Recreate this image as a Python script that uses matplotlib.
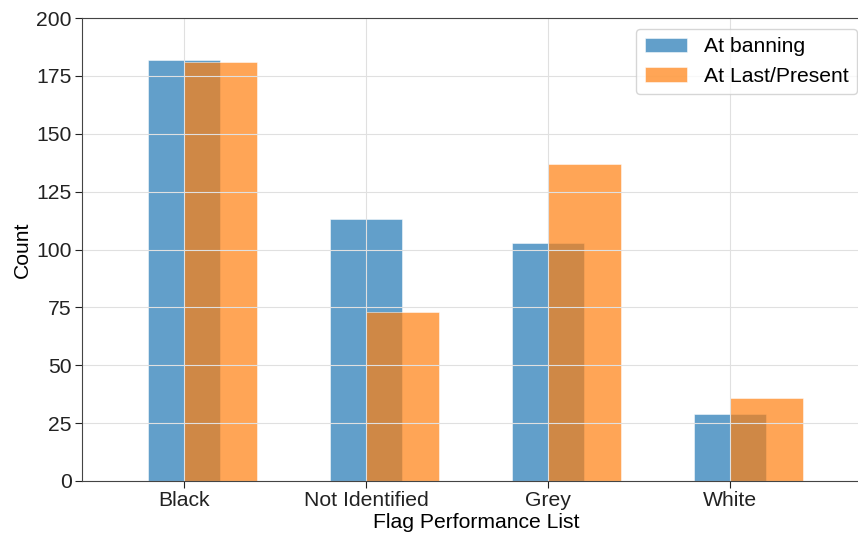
import matplotlib
matplotlib.use("Agg")
import matplotlib.pyplot as plt
import numpy as np

categories = ["Black", "Not Identified", "Grey", "White"]
at_banning = [182, 113, 103, 29]
at_last = [181, 73, 137, 36]

plt.rcParams['font.family'] = ['Liberation Sans', 'DejaVu Sans']
plt.rcParams['font.size'] = 15.2

fig = plt.figure(figsize=(8.58, 5.37), dpi=100)
W, H = 858, 537
ax = fig.add_axes([82 / W, 1 - 481 / H, (870 - 82) / W, (481 - 18) / H])

x = np.arange(len(categories))
w = 0.4
ax.bar(x, at_banning, width=w, color='tab:blue', alpha=0.7, label='At banning',
       edgecolor='white', linewidth=0.5)
ax.bar(x + w / 2, at_last, width=w, color='tab:orange', alpha=0.7, label='At Last/Present',
       edgecolor='white', linewidth=0.5)

ax.set_xticks(x)
ax.set_xticklabels(categories)
ax.set_xlim(-0.5604, (870 - 184) / 182)
ax.set_ylim(0, 200)
ax.set_yticks(range(0, 201, 25))
ax.grid(True, color='#e0e0e0', linewidth=0.8)
ax.set_axisbelow(False)
for s in ax.spines.values():
    s.set_color('#444444')
    s.set_zorder(4)
ax.tick_params(colors='#222222', direction='out', length=5, pad=2.5)
ax.set_xlabel('Flag Performance List', labelpad=2)
ax.set_ylabel('Count', labelpad=3)
leg = ax.legend(loc='upper right', framealpha=0.8, borderaxespad=0,
                bbox_to_anchor=(857 / W, 1 - 29 / H), bbox_transform=fig.transFigure)
leg.set_zorder(5)

fig.savefig('out.png', dpi=100)
